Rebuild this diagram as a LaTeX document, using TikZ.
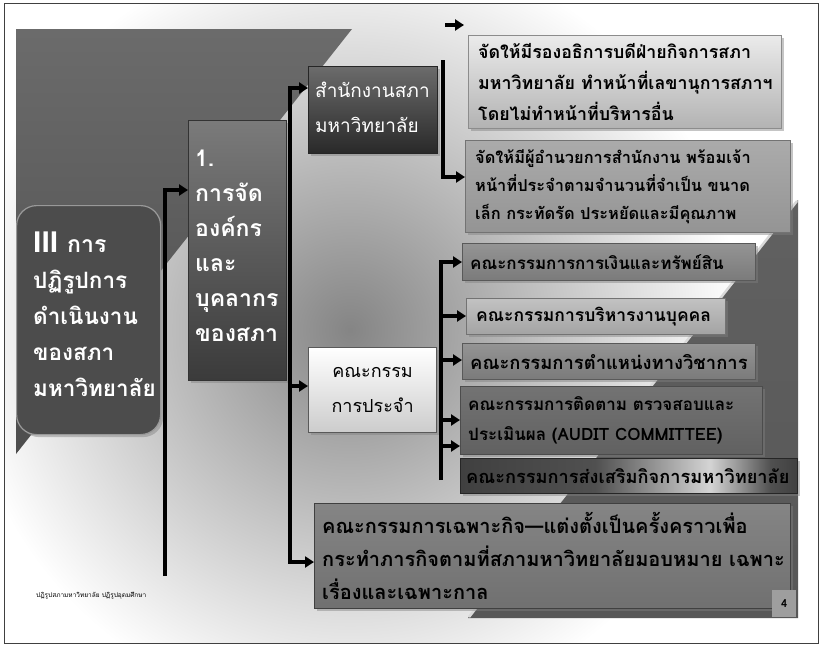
\documentclass[tikz,border=0pt]{standalone}
\usepackage{fontspec}
\newfontfamily\thai[Script=Thai]{Loma}
\newfontfamily\lat{Liberation Sans}
\usetikzlibrary{arrows.meta,shadows,calc}
\definecolor{gA}{HTML}{505050}
\definecolor{gB}{HTML}{D4D4D4}
\definecolor{gC}{HTML}{404040}
\pgfdeclarehorizontalshading{gshine}{100bp}{color(0bp)=(gC); color(25bp)=(gC); color(45bp)=(gA); color(62bp)=(gB); color(71bp)=(gA); color(75bp)=(gC); color(100bp)=(gC)}
\tikzset{
  conn/.style={line width=3.4pt, black, line join=miter},
  arr/.style={conn, -{Triangle[length=9pt,width=11pt]}},
  bx/.style={anchor=north west, inner sep=0pt, line width=1.2pt,
    drop shadow={opacity=0.45, shadow xshift=2.5pt, shadow yshift=-2.5pt}},
  tx/.style={anchor=west, inner sep=0pt, align=left, text=black,
    font=\thai\bfseries\fontsize{17}{30}\selectfont},
  wtx/.style={tx, text=white},
}
\begin{document}
\begin{tikzpicture}[x=1pt,y=-1pt]
\useasboundingbox (0,0) rectangle (821,646);
\fill[white] (0,0) rectangle (821,646);
\begin{scope}
  \clip (4,3) rectangle (818,643);
  \shade[inner color=black!48, outer color=white] (350,330) circle (390);
\end{scope}
% background wedges
\shade[top color=black!58, bottom color=black!70] (16,29) -- (352,29) -- (16,454) -- cycle;
\shade[top color=black!62, bottom color=black!66] (798,200) -- (798,618) -- (468,618) -- cycle;
\draw[white!85!black, line width=2.5pt] (797,201) -- (469,617);

% boxes
\node[bx, rounded corners=20pt, minimum width=144pt, minimum height=229pt,
      fill=black!70, draw=black!40] (boxIII) at (16,205) {};
\node[wtx, font=\thai\bfseries\fontsize{22.5}{36}\selectfont] (tIII) at ([xshift=17pt,yshift=6pt]boxIII.west)
  {{\lat\bfseries\fontsize{30}{36}\selectfont III}\hspace{9pt}{\fontsize{23}{36}\selectfont การ}\\ปฏิรูปการ\\ดำเนินงาน\\ของสภา\\มหาวิทยาลัย};

\node[bx, minimum width=98pt, minimum height=260pt,
      top color=black!52, bottom color=black!77, draw=black!80] (box1) at (188,120) {};
\node[wtx, font=\thai\bfseries\fontsize{23}{35}\selectfont] (t1) at ([xshift=7pt,yshift=5pt]box1.west)
  {1.\\การจัด\\องค์กร\\และ\\บุคลากร\\ของสภา};

\node[bx, minimum width=129pt, minimum height=87pt,
      top color=black!58, bottom color=black!84, draw=black!85] (boxS) at (308,66) {};
\node[wtx, font=\thai\fontsize{19}{35}\selectfont] (tS) at ([xshift=7pt,yshift=3pt]boxS.west)
  {สำนักงานสภา\\มหาวิทยาลัย};

\node[bx, minimum width=313pt, minimum height=93pt,
      top color=black!8, bottom color=black!30, draw=black!45] (boxA) at (468,35) {};
\node[tx, font=\thai\bfseries\fontsize{17.8}{31}\selectfont] (tA) at ([xshift=10pt]boxA.west)
  {จัดให้มีรองอธิการบดีฝ่ายกิจการสภา\\มหาวิทยาลัย ทำหน้าที่เลขานุการสภาฯ\\โดยไม่ทำหน้าที่บริหารอื่น};

\node[bx, minimum width=325pt, minimum height=92pt,
      top color=black!33, bottom color=black!42, draw=black!55] (boxB) at (465,140) {};
\node[tx, font=\thai\bfseries\fontsize{16.4}{28}\selectfont] (tB) at ([xshift=10pt]boxB.west)
  {จัดให้มีผู้อำนวยการสำนักงาน พร้อมเจ้า\\หน้าที่ประจำตามจำนวนที่จำเป็น ขนาด\\เล็ก กระทัดรัด ประหยัดและมีคุณภาพ};

\node[bx, minimum width=128pt, minimum height=85pt,
      top color=white, bottom color=black!20, draw=black!65] (boxP) at (308,347) {};
\node[tx, align=center, font=\thai\fontsize{18}{35}\selectfont, anchor=center] (tP) at (boxP.center)
  {คณะกรรม\\การประจำ};

\node[bx, minimum width=293pt, minimum height=37pt,
      top color=black!42, bottom color=black!52, draw=black!65] (boxC) at (462,243) {};
\node[tx] (tC) at ([xshift=8pt]boxC.west) {คณะกรรมการการเงินและทรัพย์สิน};

\node[bx, minimum width=259pt, minimum height=36pt,
      top color=black!24, bottom color=black!36, draw=black!55] (boxD) at (466,298) {};
\node[tx, font=\thai\bfseries\fontsize{17.5}{30}\selectfont] (tD) at ([xshift=10pt]boxD.west) {คณะกรรมการบริหารงานบุคคล};

\node[bx, minimum width=293pt, minimum height=36pt,
      top color=black!42, bottom color=black!52, draw=black!65] (boxE) at (462,343) {};
\node[tx, font=\thai\bfseries\fontsize{18.4}{30}\selectfont] (tE) at ([xshift=8pt]boxE.west) {คณะกรรมการตำแหน่งทางวิชาการ};

\node[bx, minimum width=302pt, minimum height=68pt,
      top color=black!55, bottom color=black!62, draw=black!70] (boxF) at (460,386) {};
\node[tx] (tF) at ([xshift=8pt]boxF.west) {คณะกรรมการติดตาม ตรวจสอบและ\\ประเมินผล (AUDIT COMMITTEE)};

\node[bx, minimum width=337pt, minimum height=35pt,
      shading=gshine, draw=black!85] (boxG) at (460,458) {};
\node[tx, font=\thai\bfseries\fontsize{18.2}{30}\selectfont] (tG) at ([xshift=6pt]boxG.west) {คณะกรรมการส่งเสริมกิจการมหาวิทยาลัย};

\node[bx, minimum width=476pt, minimum height=105pt,
      top color=black!48, bottom color=black!56, draw=black!75] (boxH) at (314,503) {};
\node[tx, font=\thai\bfseries\fontsize{20}{33}\selectfont] (tH) at ([xshift=8pt]boxH.west)
  {คณะกรรมการเฉพาะกิจ—แต่งตั้งเป็นครั้งคราวเพื่อ\\กระทำภารกิจตามที่สภามหาวิทยาลัยมอบหมาย เฉพาะ\\เรื่องและเฉพาะกาล};

\node[anchor=north west, inner sep=0pt, minimum width=24pt, minimum height=27pt,
      fill=black!38, font=\thai\bfseries\fontsize{11}{12}\selectfont] (box4) at (772,590) {4};

% connectors
\coordinate (j1top) at (165,190);
\coordinate (j1bot) at (165,576);
\draw[arr] (j1bot) -- (j1top) -- (j1top -| box1.west);

\coordinate (j2top) at (290,88);
\coordinate (j2mid) at (290,386);
\coordinate (j2bot) at (290,562);
\draw[arr] (j2bot) -- (j2top) -- (j2top -| boxS.west);
\draw[arr] (j2mid) -- (j2mid -| boxP.west);
\draw[arr] (j2top) -- (j2bot) -- (j2bot -| boxH.west);

\coordinate (j3top) at (443,60);
\coordinate (j3bot) at (443,177);
\draw[arr] (j3top) -- (j3bot) -- (j3bot -| boxB.west);
\coordinate (fa1) at (445,25);
\coordinate (fa2) at (464,25);
\draw[arr] (fa1) -- (fa2);

\coordinate (j4top) at (441,262);
\coordinate (j4d) at (441,316);
\coordinate (j4e) at (441,360);
\coordinate (j4f) at (441,420);
\coordinate (j4g) at (441,446);
\coordinate (j4bot) at (441,480);
\draw[arr] (j4bot) -- (j4top) -- (j4top -| boxC.west);
\draw[arr] (j4d) -- (j4d -| boxD.west);
\draw[arr] (j4e) -- (j4e -| boxE.west);
\draw[arr] (j4f) -- (j4f -| boxF.west);
\draw[arr] (j4g) -- (j4g -| boxF.west);

% footer
\node[anchor=west, inner sep=0pt, font=\thai\fontsize{6.5}{8}\selectfont] (foot) at (36,596)
  {ปฏิรูปสภามหาวิทยาลัย ปฏิรูปอุดมศึกษา};

% frame
\draw[black!75, line width=1pt] (4,3) rectangle (818,643);
\end{tikzpicture}
\end{document}
